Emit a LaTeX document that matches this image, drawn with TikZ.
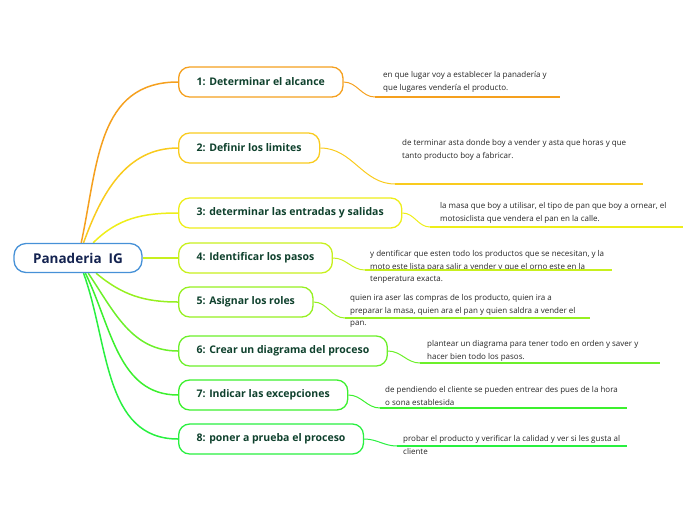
\documentclass[tikz,border=0pt]{standalone}
\usepackage{fontspec}
\setmainfont{Open Sans}
\usetikzlibrary{positioning, backgrounds}
\definecolor{rootblue}{RGB}{70,145,215}
\definecolor{rootink}{RGB}{20,35,80}
\definecolor{stepink}{RGB}{15,65,45}
\definecolor{c1}{RGB}{245,160,30}
\definecolor{c2}{RGB}{249,203,30}
\definecolor{c3}{RGB}{238,238,25}
\definecolor{c4}{RGB}{200,240,30}
\definecolor{c5}{RGB}{150,240,32}
\definecolor{c6}{RGB}{108,240,42}
\definecolor{c7}{RGB}{60,240,46}
\definecolor{c8}{RGB}{40,240,64}
\tikzset{
    branch/.style = {draw, rounded corners=11pt, line width=1.3pt, fill=white, minimum height=30pt,
        inner xsep=18pt, anchor=west, text=stepink, font=\bfseries\fontsize{10.5}{12}\selectfont},
    leaf/.style = {align=left, inner sep=0pt, anchor=base west, text=black!85,
        font=\fontsize{8}{12.4}\selectfont},
    link/.style = {draw, line width=1pt},
    stem/.style = {draw, line width=1.5pt},
    uline/.style = {draw, line width=1.6pt},
}

\begin{document}
\begin{tikzpicture}[x=1pt, y=-1pt]
        \useasboundingbox (0,0) rectangle (696,520);
        \node[draw=rootblue, rounded corners=12pt, line width=1.3pt, minimum width=128pt, minimum height=29pt,
            text=rootink, font=\bfseries\fontsize{13.5}{15}\selectfont] (root) at (78,258) {Panaderia\ \ IG};

        \node[branch, draw=c1] (b1) at (178,82) {1: Determinar el alcance};
        \node[branch, draw=c2] (b2) at (178,148) {2: Definir los limites};
        \node[branch, draw=c3] (b3) at (178,213) {3: determinar las entradas y salidas};
        \node[branch, draw=c4] (b4) at (178,258) {4: Identificar los pasos};
        \node[branch, draw=c5] (b5) at (178,302) {5: Asignar los roles};
        \node[branch, draw=c6] (b6) at (178,351) {6: Crear un diagrama del proceso};
        \node[branch, draw=c7] (b7) at (178,395) {7: Indicar las excepciones};
        \node[branch, draw=c8] (b8) at (178,439) {8: poner a prueba el proceso};

        % leaf texts, placed by the baseline of their last line
        \node[leaf] (l1) at (383,90) {en que lugar voy a establecer la panadería y\\que lugares vendería el producto.};
        \node[leaf] (l2) at (402,158) {de terminar asta donde boy a vender y asta que horas y que\\tanto producto boy a fabricar.};
        \node[leaf] (l3) at (440,221) {la masa que boy a utilisar, el tipo de pan que boy a ornear, el\\motosiclista que vendera el pan en la calle.};
        \node[leaf] (l4) at (370,281.5) {y dentificar que esten todo los productos que se necesitan, y la\\moto este lista para salir a vender y que el orno este en la\\tenperatura exacta.};
        \node[leaf] (l5) at (350,325.5) {quien ira aser las compras de los producto, quien ira a\\preparar la masa, quien ara el pan y quien saldra a vender el\\pan.};
        \node[leaf] (l6) at (427,359) {plantear un diagrama para tener todo en orden y saver y\\hacer bien todo los pasos.};
        \node[leaf] (l7) at (385,405) {de pendiendo el cliente se pueden entrear des pues de la hora\\o sona establesida};
        \node[leaf] (l8) at (403,454) {probar el producto y verificar la calidad y ver si les gusta al\\cliente};

        % underline ends
        \coordinate (u1) at (375,97);  \coordinate (v1) at (560,97);
        \coordinate (u2) at (395,184); \coordinate (v2) at (643,184);
        \coordinate (u3) at (430,227); \coordinate (v3) at (683,227);
        \coordinate (u4) at (365,270); \coordinate (v4) at (612,270);
        \coordinate (u5) at (345,318); \coordinate (v5) at (590,318);
        \coordinate (u6) at (420,363); \coordinate (v6) at (660,363);
        \coordinate (u7) at (380,408); \coordinate (v7) at (627,408);
        \coordinate (u8) at (397,446); \coordinate (v8) at (627,446);

        \begin{scope}[on background layer]
            \draw[stem, c1] (root) to[out=78, in=180, looseness=1.1] (b1);
            \draw[stem, c2] (root) to[out=70, in=180] (b2);
            \draw[stem, c3] (root) to[out=45, in=180] (b3);
            \draw[stem, c4] (root) -- (b4);
            \draw[stem, c5] (root) to[out=-40, in=180] (b5);
            \draw[stem, c6] (root) to[out=-56, in=180] (b6);
            \draw[stem, c7] (root) to[out=-64, in=180] (b7);
            \draw[stem, c8] (root) to[out=-70, in=180] (b8);
        \end{scope}

        \draw[link, c1] (b1) to[out=0, in=180] (u1);
        \draw[link, c2] (b2) to[out=0, in=180] (u2);
        \draw[link, c3] (b3) to[out=0, in=180] (u3);
        \draw[link, c4] (b4) to[out=0, in=180] (u4);
        \draw[link, c5] (b5) to[out=0, in=180] (u5);
        \draw[link, c6] (b6) to[out=0, in=180] (u6);
        \draw[link, c7] (b7) to[out=0, in=180] (u7);
        \draw[link, c8] (b8) to[out=0, in=180] (u8);

        \draw[uline, c1] (u1) -- (v1);
        \draw[uline, c2] (u2) -- (v2);
        \draw[uline, c3] (u3) -- (v3);
        \draw[uline, c4] (u4) -- (v4);
        \draw[uline, c5] (u5) -- (v5);
        \draw[uline, c6] (u6) -- (v6);
        \draw[uline, c7] (u7) -- (v7);
        \draw[uline, c8] (u8) -- (v8);
    \end{tikzpicture}
\end{document}
